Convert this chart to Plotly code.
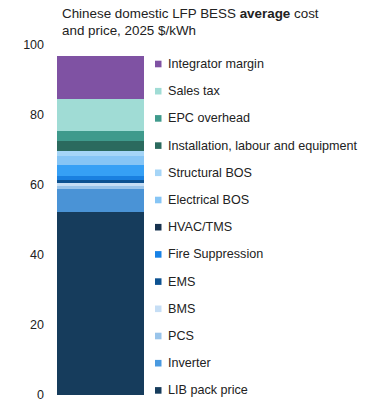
import plotly.graph_objects as go

# Cost stack, bottom to top ($/kWh)
components = [
    "LIB pack price", "Inverter", "PCS", "BMS", "EMS", "Fire Suppression",
    "HVAC/TMS", "Electrical BOS", "Structural BOS",
    "Installation, labour and equipment", "EPC overhead", "Sales tax",
    "Integrator margin",
]
values = [52.3, 6.7, 0.7, 0.8, 1.0, 1.2, 3.1, 2.4, 1.4, 3.0, 2.8, 9.3, 12.3]
y_ticks = [0, 20, 40, 60, 80, 100]

bar_colors = [
    "#163c5c", "#4a93d6", "#99c4ea", "#c6def5", "#0d5291", "#1a80e0",
    "#36a0f5", "#86c5f5", "#a5d5f7", "#2b6a5e", "#3f9a8c", "#a0dcd5",
    "#7f52a3",
]
key_colors = [
    "#163c5c", "#4a9ae0", "#99c4ea", "#c6def5", "#0d5291", "#1782e6",
    "#17324f", "#86c5f5", "#a5d5f7", "#2b6a5e", "#3f9a8c", "#a0dcd5",
    "#7f52a3",
]

W, H = 368, 401
M_T, M_B, M_L, M_R = 45, 6, 50, 218
plot_h = H - M_T - M_B
plot_w = W - M_L - M_R
FONT = "Liberation Sans, Arial, sans-serif"

fig = go.Figure()
for name, val, col in zip(components, values, bar_colors):
    fig.add_trace(go.Bar(
        x=[0], y=[val], name=name, width=0.87,
        marker=dict(color=col, line=dict(width=0)),
        showlegend=False,
    ))

# Hand-placed key: squares and labels, top entry first
shapes, annotations = [], []
top_px, step_px = 64, 27.2
for i, (name, col) in enumerate(zip(components[::-1], key_colors[::-1])):
    py = top_px + i * step_px
    yc = (H - M_B - py) / plot_h
    half = 3.3 / plot_h
    shapes.append(dict(
        type="rect", xref="paper", yref="paper",
        x0=(155 - M_L) / plot_w, x1=(161.5 - M_L) / plot_w,
        y0=yc - half, y1=yc + half,
        fillcolor=col, line=dict(width=0), layer="above",
    ))
    annotations.append(dict(
        xref="paper", yref="paper",
        x=(166 - M_L) / plot_w, y=yc,
        xanchor="left", yanchor="middle", showarrow=False,
        text=name, font=dict(size=12.6, color="#222222", family=FONT),
    ))

annotations.append(dict(
    xref="paper", yref="paper",
    x=(60 - M_L) / plot_w, y=(H - M_B - 22) / plot_h,
    xanchor="left", yanchor="middle", showarrow=False, align="left",
    text="Chinese domestic LFP BESS <b>average</b> cost<br>and price, 2025 $/kWh",
    font=dict(size=13.4, color="#222222", family=FONT),
))

fig.update_layout(
    width=W, height=H,
    margin=dict(l=M_L, r=M_R, t=M_T, b=M_B, pad=0, autoexpand=False),
    barmode="stack",
    plot_bgcolor="white", paper_bgcolor="white",
    shapes=shapes, annotations=annotations,
    font=dict(family=FONT, color="#222222"),
    xaxis=dict(range=[-0.5, 0.5], showticklabels=False, showgrid=False,
               zeroline=False, showline=False, ticks="", automargin=False),
    yaxis=dict(range=[0, 100], tickvals=y_ticks, showgrid=False,
               zeroline=False, showline=False, ticks="", automargin=False,
               ticklabelstandoff=5, ticklabeloverflow="allow",
               tickfont=dict(size=12.5, color="#222222")),
)

fig.write_html("out.html")
